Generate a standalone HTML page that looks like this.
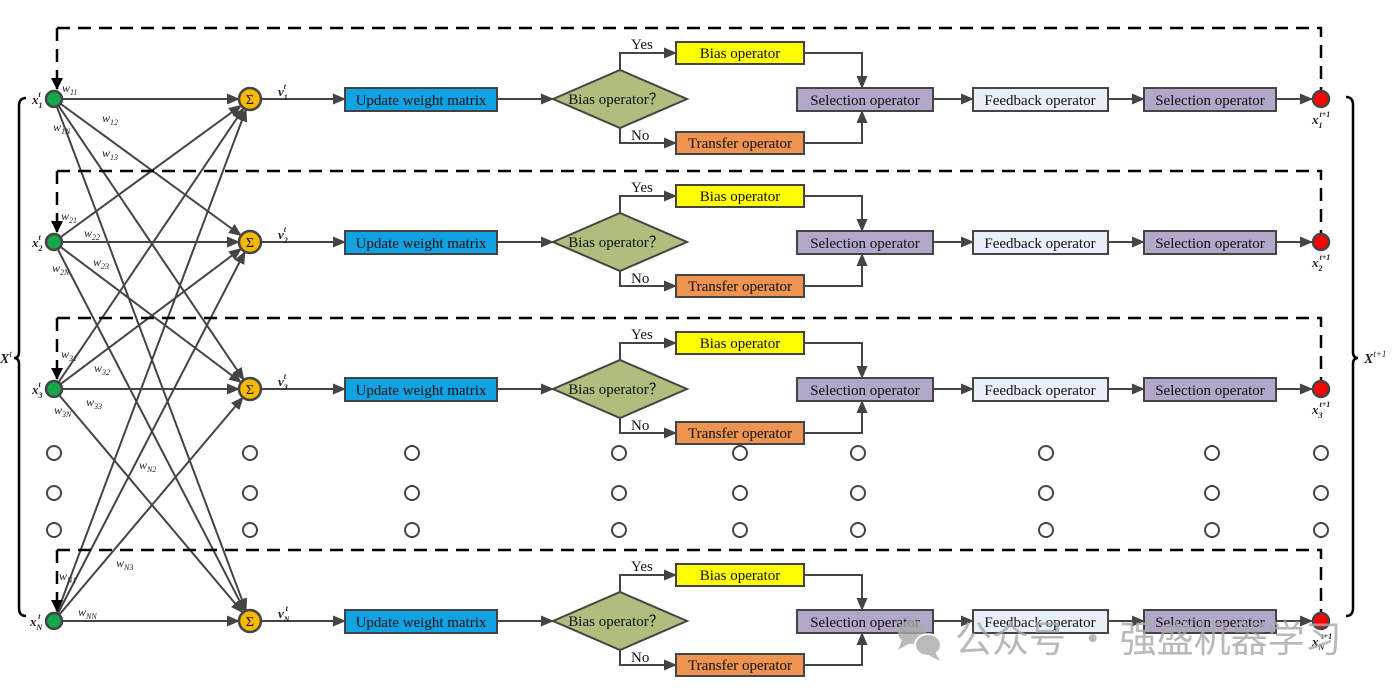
<!DOCTYPE html>
<html><head><meta charset="utf-8"><style>
html,body{margin:0;padding:0;background:#fff;}
svg{display:block;}
.bx{font-family:"Liberation Serif",serif;font-size:15px;fill:#111;}
.it{font-family:"Liberation Serif",serif;font-style:italic;fill:#222;}
</style></head><body>
<svg width="1399" height="700" viewBox="0 0 1399 700" xmlns="http://www.w3.org/2000/svg">
<defs>
<marker id="a" markerWidth="13" markerHeight="11" refX="12" refY="5.5" orient="auto" markerUnits="userSpaceOnUse"><path d="M0,0 L13,5.5 L0,11 Z" fill="#444"/></marker>
<marker id="k" markerWidth="12" markerHeight="12" refX="11" refY="6" orient="auto" markerUnits="userSpaceOnUse"><path d="M0,0 L12,6 L0,12 Z" fill="#000"/></marker>
<g id="row">
  <path d="M57,28 H1321 V90" fill="none" stroke="#000" stroke-width="2.5" stroke-dasharray="13,8"/>
  <path d="M57,28 V62" fill="none" stroke="#000" stroke-width="2.5" stroke-dasharray="13,8"/>
  <path d="M57,70 V89" stroke="#000" stroke-width="2.5" marker-end="url(#k)"/>
  <line x1="54" y1="99" x2="239" y2="99" stroke="#444" stroke-width="2" marker-end="url(#a)"/>
  <circle cx="250" cy="99" r="11" fill="#f7b900" stroke="#444" stroke-width="2.5"/>
  <text x="250" y="104" text-anchor="middle" font-family="Liberation Serif,serif" font-size="14" fill="#111">Σ</text>
  <line x1="261" y1="99" x2="345" y2="99" stroke="#444" stroke-width="2" marker-end="url(#a)"/>
  <rect x="345" y="88" width="152" height="23" fill="#10a2e2" stroke="#444" stroke-width="2"/>
  <text class="bx" x="421" y="105" text-anchor="middle">Update weight matrix</text>
  <line x1="497" y1="99" x2="553" y2="99" stroke="#444" stroke-width="2" marker-end="url(#a)"/>
  <polygon points="553,99 620,70 687,99 620,128" fill="#afbd7d" stroke="#444" stroke-width="2"/>
  <text class="bx" x="616" y="104" text-anchor="middle">Bias operator？</text>
  <path d="M620,70 V53 H676" fill="none" stroke="#444" stroke-width="2" marker-end="url(#a)"/>
  <path d="M620,128 V143 H676" fill="none" stroke="#444" stroke-width="2" marker-end="url(#a)"/>
  <text class="bx" x="631" y="49">Yes</text>
  <text class="bx" x="631" y="140">No</text>
  <rect x="676" y="42" width="128" height="22" fill="#ffff00" stroke="#444" stroke-width="2"/>
  <text class="bx" x="740" y="58" text-anchor="middle">Bias operator</text>
  <rect x="676" y="132" width="128" height="22" fill="#ee9350" stroke="#444" stroke-width="2"/>
  <text class="bx" x="740" y="148" text-anchor="middle">Transfer operator</text>
  <path d="M804,53 H862 V88" fill="none" stroke="#444" stroke-width="2" marker-end="url(#a)"/>
  <path d="M804,143 H862 V111" fill="none" stroke="#444" stroke-width="2" marker-end="url(#a)"/>
  <rect x="797" y="88" width="136" height="23" fill="#b3a7c9" stroke="#444" stroke-width="2"/>
  <text class="bx" x="865" y="105" text-anchor="middle">Selection operator</text>
  <line x1="933" y1="99" x2="973" y2="99" stroke="#444" stroke-width="2" marker-end="url(#a)"/>
  <rect x="973" y="88" width="135" height="23" fill="#e9effa" stroke="#444" stroke-width="2"/>
  <text class="bx" x="1040" y="105" text-anchor="middle">Feedback operator</text>
  <line x1="1108" y1="99" x2="1144" y2="99" stroke="#444" stroke-width="2" marker-end="url(#a)"/>
  <rect x="1144" y="88" width="132" height="23" fill="#b3a7c9" stroke="#444" stroke-width="2"/>
  <text class="bx" x="1210" y="105" text-anchor="middle">Selection operator</text>
  <line x1="1276" y1="99" x2="1312" y2="99" stroke="#444" stroke-width="2" marker-end="url(#a)"/>
  <circle cx="1321" cy="99" r="8" fill="#ff0000" stroke="#444" stroke-width="2.5"/>
</g>
</defs>

<g stroke="#444" stroke-width="2" marker-end="url(#a)">
  <line x1="54" y1="99" x2="241.1" y2="235.5"/>
  <line x1="54" y1="99" x2="243.8" y2="379.9"/>
  <line x1="54" y1="99" x2="246.1" y2="610.7"/>
  <line x1="54" y1="242" x2="241.1" y2="105.5"/>
  <line x1="54" y1="242" x2="241.2" y2="382.4"/>
  <line x1="54" y1="242" x2="244.9" y2="611.2"/>
  <line x1="54" y1="389" x2="243.8" y2="108.1"/>
  <line x1="54" y1="389" x2="241.2" y2="248.6"/>
  <line x1="54" y1="389" x2="242.9" y2="612.6"/>
  <line x1="54" y1="621" x2="246.1" y2="109.3"/>
  <line x1="54" y1="621" x2="244.9" y2="251.8"/>
  <line x1="54" y1="621" x2="242.9" y2="397.4"/>
</g>

<use href="#row"/>
<use href="#row" transform="translate(0,143)"/>
<use href="#row" transform="translate(0,290)"/>
<use href="#row" transform="translate(0,522)"/>

<g fill="#17a64a" stroke="#444" stroke-width="2.5">
  <circle cx="54" cy="99" r="8"/><circle cx="54" cy="242" r="8"/>
  <circle cx="54" cy="389" r="8"/><circle cx="54" cy="621" r="8"/>
</g>

<g fill="none" stroke="#444" stroke-width="2">
  <g id="dc"><circle cx="54" cy="453" r="7"/><circle cx="54" cy="493" r="7"/><circle cx="54" cy="530" r="7"/></g>
  <use href="#dc" x="196"/><use href="#dc" x="358"/><use href="#dc" x="565"/><use href="#dc" x="686"/>
  <use href="#dc" x="804"/><use href="#dc" x="992"/><use href="#dc" x="1158"/><use href="#dc" x="1267"/>
</g>

<path d="M26,98 Q19,98 19,106 V352 Q19,358 14,358 Q19,358 19,364 V608 Q19,616 26,616" fill="none" stroke="#000" stroke-width="2.5"/>
<path d="M1346,97 Q1353,97 1353,105 V352 Q1353,358 1358,358 Q1353,358 1353,364 V608 Q1353,616 1346,616" fill="none" stroke="#000" stroke-width="2.5"/>
<text class="it" x="0" y="363" font-size="14" font-weight="bold">X<tspan font-size="9" dy="-6" font-weight="normal">t</tspan></text>
<text class="it" x="1364" y="363" font-size="14" font-weight="bold">X<tspan font-size="9" dy="-6" font-weight="normal">t+1</tspan></text>

<g class="it" font-size="13" font-weight="bold">
  <text x="32" y="104">x<tspan font-size="8" dy="4">1</tspan><tspan font-size="8" dx="-4" dy="-11">t</tspan></text>
  <text x="32" y="247">x<tspan font-size="8" dy="4">2</tspan><tspan font-size="8" dx="-4" dy="-11">t</tspan></text>
  <text x="32" y="394">x<tspan font-size="8" dy="4">3</tspan><tspan font-size="8" dx="-4" dy="-11">t</tspan></text>
  <text x="30" y="626">x<tspan font-size="8" dy="4">N</tspan><tspan font-size="8" dx="-4" dy="-11">t</tspan></text>
  <text x="1312" y="124">x<tspan font-size="8" dy="4">1</tspan><tspan font-size="8" dx="-3" dy="-11">t+1</tspan></text>
  <text x="1312" y="267">x<tspan font-size="8" dy="4">2</tspan><tspan font-size="8" dx="-3" dy="-11">t+1</tspan></text>
  <text x="1312" y="414">x<tspan font-size="8" dy="4">3</tspan><tspan font-size="8" dx="-3" dy="-11">t+1</tspan></text>
  <text x="1312" y="646">x<tspan font-size="8" dy="4">N</tspan><tspan font-size="8" dx="-3" dy="-11">t+1</tspan></text>
  <text x="278" y="96">v<tspan font-size="8" dy="4">1</tspan><tspan font-size="8" dx="-4" dy="-11">t</tspan></text>
  <text x="278" y="239">v<tspan font-size="8" dy="4">2</tspan><tspan font-size="8" dx="-4" dy="-11">t</tspan></text>
  <text x="278" y="386">v<tspan font-size="8" dy="4">3</tspan><tspan font-size="8" dx="-4" dy="-11">t</tspan></text>
  <text x="278" y="618">v<tspan font-size="8" dy="4">N</tspan><tspan font-size="8" dx="-4" dy="-11">t</tspan></text>
</g>

<g class="it" font-size="12">
  <text x="62" y="92">w<tspan font-size="8" dy="3">11</tspan></text>
  <text x="102" y="122">w<tspan font-size="8" dy="3">12</tspan></text>
  <text x="53" y="131">w<tspan font-size="8" dy="3">1N</tspan></text>
  <text x="102" y="157">w<tspan font-size="8" dy="3">13</tspan></text>
  <text x="61" y="220">w<tspan font-size="8" dy="3">21</tspan></text>
  <text x="84" y="237">w<tspan font-size="8" dy="3">22</tspan></text>
  <text x="93" y="266">w<tspan font-size="8" dy="3">23</tspan></text>
  <text x="52" y="272">w<tspan font-size="8" dy="3">2N</tspan></text>
  <text x="61" y="358">w<tspan font-size="8" dy="3">31</tspan></text>
  <text x="94" y="372">w<tspan font-size="8" dy="3">32</tspan></text>
  <text x="86" y="406">w<tspan font-size="8" dy="3">33</tspan></text>
  <text x="54" y="414">w<tspan font-size="8" dy="3">3N</tspan></text>
  <text x="139" y="469">w<tspan font-size="8" dy="3">N2</tspan></text>
  <text x="116" y="567">w<tspan font-size="8" dy="3">N3</tspan></text>
  <text x="59" y="580">w<tspan font-size="8" dy="3">N1</tspan></text>
  <text x="78" y="616">w<tspan font-size="8" dy="3">NN</tspan></text>
</g>

<g opacity="0.8">
  <ellipse cx="912" cy="632" rx="14" ry="12" fill="#aaa"/>
  <polygon points="902,640 898,650 910,643" fill="#aaa"/>
  <ellipse cx="928" cy="645" rx="13" ry="11" fill="#aaa" stroke="#fff" stroke-width="2"/>
  <polygon points="935,652 940,661 928,655" fill="#aaa"/>
  <text x="955" y="652" font-family="'Noto Sans CJK SC',sans-serif" font-size="37" fill="#a8a8a8">公众号 · 强盛机器学习</text>
</g>
</svg>
</body></html>
